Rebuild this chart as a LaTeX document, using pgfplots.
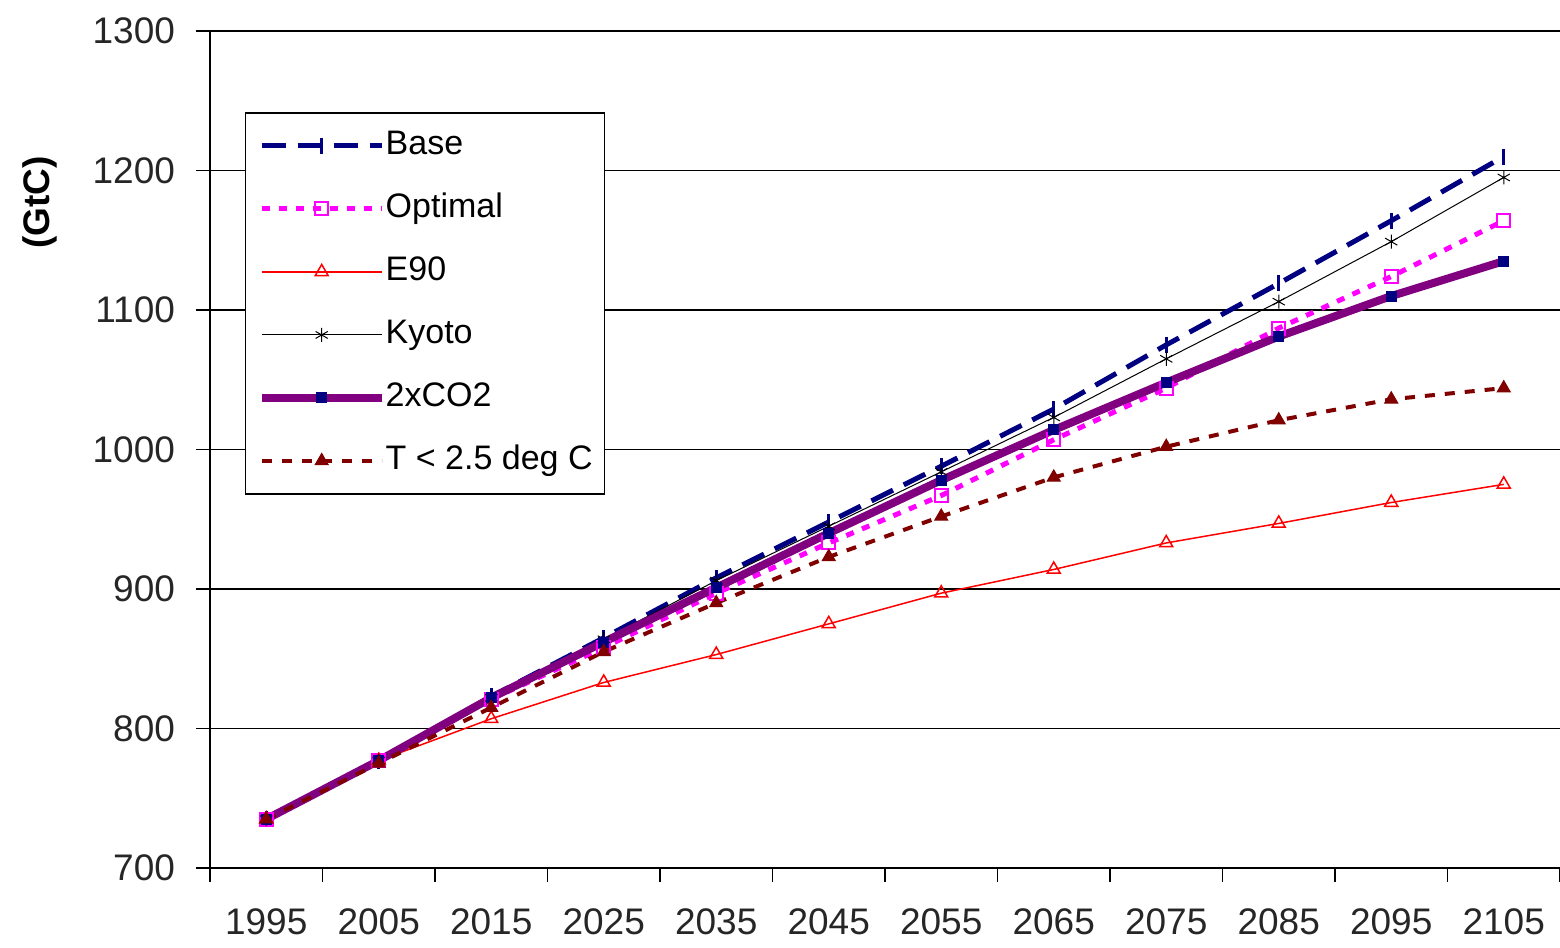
\documentclass[border=0pt]{standalone}
\usepackage{pgfplots}
\pgfplotsset{compat=1.18}
\usepackage{fontspec}
\setmainfont{Liberation Sans}
\definecolor{cnavy}{RGB}{0,0,128}
\definecolor{cmag}{RGB}{255,0,255}
\definecolor{cred}{RGB}{255,0,0}
\definecolor{cpurple}{RGB}{128,0,128}
\definecolor{cdred}{RGB}{128,0,0}
\begin{document}
\begin{tikzpicture}
\begin{axis}[
  name=ax, at={(0,0)}, anchor=south west,
  scale only axis, width=675pt, height=418.5pt,
  xmin=1990, xmax=2110, ymin=700, ymax=1300,
  axis x line=bottom, axis y line=left, axis line style={-, line width=0.6pt, black},
  xtick={1990,2000,...,2110},
  x tick label as interval=true,
  xticklabels={1995,2005,2015,2025,2035,2045,2055,2065,2075,2085,2095,2105},
  ytick={700,800,...,1300},
  tick align=outside, major tick length=7pt,
  tick style={black, line width=0.6pt},
  ymajorgrids, grid style={black, line width=0.6pt},
  /pgf/number format/1000 sep={},
  /pgf/number format/assume math mode=true,
  ticklabel style={font=\fontsize{18.5}{20}\selectfont, color=black!85},
  xticklabel style={yshift=-10pt},
  yticklabel style={xshift=-7pt},
  ylabel={(GtC)},
  ylabel style={at={(axis description cs:-0.1259,0.795)}, anchor=center, font=\fontsize{18.5}{20}\selectfont\bfseries},
  legend style={at={(rel axis cs:0.0259,0.903)}, anchor=north west, draw=black, line width=0.75pt,
     font=\fontsize{17}{20}\selectfont, row sep=14.5pt, inner xsep=6pt, inner ysep=8pt,
     nodes={inner sep=0pt, text height=13pt, text depth=4pt, anchor=west},
     /tikz/every even column/.style={column sep=4pt}},
  legend cell align=left,
  legend image code/.code={\draw[mark repeat=2,mark phase=2,#1] plot coordinates {(0pt,0pt) (30pt,0pt) (60pt,0pt)};},
]
\addplot[cnavy, line width=2.5pt, dash pattern=on 12pt off 6pt, mark=|, mark size=4pt, mark options={solid, line width=1.5pt}]
coordinates {(1995,735) (2005,777) (2015,823) (2025,865) (2035,908) (2045,948) (2055,988) (2065,1029) (2075,1075) (2085,1119) (2095,1164) (2105,1210)};
\addlegendentry{Base}
\addplot[cmag, line width=2.5pt, dash pattern=on 4pt off 4.5pt, mark=square, mark size=3.25pt, mark options={solid, line width=1pt, fill=white}]
coordinates {(1995,735) (2005,777) (2015,821) (2025,858) (2035,897) (2045,933) (2055,967) (2065,1007) (2075,1044) (2085,1087) (2095,1124) (2105,1164)};
\addlegendentry{Optimal}
\addplot[cred, line width=0.75pt, mark=triangle, mark size=3.75pt, mark options={solid, line width=0.75pt, fill=white}]
coordinates {(1995,735) (2005,777) (2015,807) (2025,833) (2035,853) (2045,875) (2055,897) (2065,914) (2075,933) (2085,947) (2095,962) (2105,975)};
\addlegendentry{E90}
\addplot[black, line width=0.5pt, mark=asterisk, mark size=3.5pt, mark options={solid, line width=0.5pt}]
coordinates {(1995,735) (2005,777) (2015,822) (2025,864) (2035,906) (2045,945) (2055,984) (2065,1023) (2075,1065) (2085,1106) (2095,1149) (2105,1195)};
\addlegendentry{Kyoto}
\addplot[cpurple, line width=4pt, mark=square*, mark size=2.5pt, mark options={solid, line width=0.5pt, draw=cnavy, fill=cnavy}]
coordinates {(1995,735) (2005,777) (2015,822) (2025,862) (2035,901) (2045,940) (2055,978) (2065,1014) (2075,1048) (2085,1081) (2095,1110) (2105,1135)};
\addlegendentry{2xCO2}
\addplot[cdred, line width=2pt, dash pattern=on 5pt off 5pt, mark=triangle*, mark size=3.75pt, mark options={solid, line width=0.5pt, fill=cdred}]
coordinates {(1995,735) (2005,775) (2015,815) (2025,855) (2035,890) (2045,923) (2055,952) (2065,980) (2075,1002) (2085,1021) (2095,1036) (2105,1044)};
\addlegendentry{T < 2.5 deg C}
\end{axis}
\pgfresetboundingbox
\path (-105pt,-40pt) rectangle (675pt,434pt);
\end{tikzpicture}
\end{document}
